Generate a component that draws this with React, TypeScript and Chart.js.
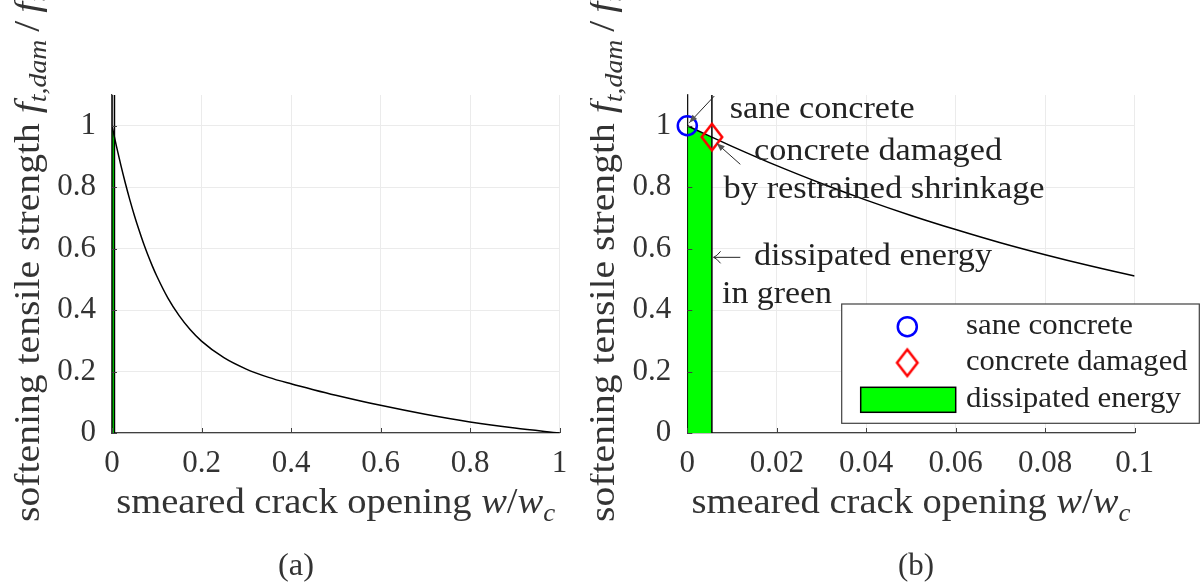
import React, { useEffect, useRef } from 'react';
import { Chart, registerables } from 'chart.js';
Chart.register(...registerables);

const FAM = '"Liberation Serif", "Times New Roman", serif';

// ---- data ----
const crackOpening = [0, 0.005, 0.01, 0.02, 0.03, 0.04, 0.05, 0.06, 0.07, 0.08, 0.09, 0.1, 0.125, 0.15, 0.175, 0.2, 0.25, 0.3, 0.35, 0.4, 0.45, 0.5, 0.6, 0.7, 0.8, 0.9, 1.0];
const softeningStrength = [1, 0.966, 0.933, 0.87, 0.812, 0.758, 0.708, 0.662, 0.619, 0.58, 0.544, 0.511, 0.439, 0.382, 0.336, 0.299, 0.245, 0.208, 0.181, 0.16, 0.141, 0.123, 0.09, 0.061, 0.036, 0.016, 0];
const saneX = [0];
const saneY = [1];
const damagedX = [0.0055];
const damagedY = [0.963];
const energyTopX = [0, 0.0055];
const energyTopY = [1, 0.962];
const energyEdgeY = [0, 1.1];
const yTicks = [0, 0.2, 0.4, 0.6, 0.8, 1];
const xTicksA = [0, 0.2, 0.4, 0.6, 0.8, 1];
const xTicksB = [0, 0.02, 0.04, 0.06, 0.08, 0.1];
const legendLabels = ['sane concrete', 'concrete damaged', 'dissipated energy'];
const Y_MAX = 1.1;

type Seg = { t: string; it?: boolean; sub?: boolean };

const yTitle: Seg[] = [
  { t: 'softening tensile strength ' },
  { t: 'f', it: true },
  { t: 't,dam', it: true, sub: true },
  { t: '\u2009/\u2009' },
  { t: 'f', it: true },
  { t: 't', it: true, sub: true },
];
const xTitle: Seg[] = [
  { t: 'smeared crack opening ' },
  { t: 'w', it: true },
  { t: '/' },
  { t: 'w', it: true },
  { t: 'c', it: true, sub: true },
];

function segFont(size: number, s: Seg) {
  const sz = s.sub ? size * 0.7 : size;
  return `${s.it ? 'italic ' : ''}${sz}px ${FAM}`;
}
function measureRich(ctx: CanvasRenderingContext2D, segs: Seg[], size: number) {
  let w = 0;
  for (const s of segs) {
    ctx.font = segFont(size, s);
    w += ctx.measureText(s.t).width;
  }
  return w;
}
function drawRich(
  ctx: CanvasRenderingContext2D,
  segs: Seg[],
  size: number,
  x: number,
  y: number,
  o: { width?: number; center?: boolean; rotate?: boolean; color: string }
) {
  const nat = measureRich(ctx, segs, size);
  const sx = o.width ? o.width / nat : 1;
  ctx.save();
  ctx.translate(x, y);
  if (o.rotate) ctx.rotate(-Math.PI / 2);
  ctx.scale(sx, 1);
  let cx = o.center ? -nat / 2 : 0;
  ctx.fillStyle = o.color;
  ctx.textBaseline = 'alphabetic';
  ctx.textAlign = 'left';
  for (const s of segs) {
    ctx.font = segFont(size, s);
    ctx.fillText(s.t, cx, s.sub ? size * 0.22 : 0);
    cx += ctx.measureText(s.t).width;
  }
  ctx.restore();
}

function filledArrow(ctx: CanvasRenderingContext2D, x1: number, y1: number, x2: number, y2: number) {
  const head = 8, hw = 3.2;
  ctx.beginPath();
  ctx.moveTo(x1, y1);
  ctx.lineTo(x2, y2);
  ctx.stroke();
  const a = Math.atan2(y2 - y1, x2 - x1);
  const bx = x2 - head * Math.cos(a), by = y2 - head * Math.sin(a);
  ctx.beginPath();
  ctx.moveTo(x2, y2);
  ctx.lineTo(bx + hw * Math.sin(a), by - hw * Math.cos(a));
  ctx.lineTo(bx - hw * Math.sin(a), by + hw * Math.cos(a));
  ctx.closePath();
  ctx.fill();
}
function openArrow(ctx: CanvasRenderingContext2D, x1: number, y1: number, x2: number, y2: number) {
  ctx.beginPath();
  ctx.moveTo(x1, y1);
  ctx.lineTo(x2, y2);
  ctx.moveTo(x2 + 7, y2 - 6);
  ctx.quadraticCurveTo(x2 + 3, y2 - 1, x2, y2);
  ctx.quadraticCurveTo(x2 + 3, y2 + 1, x2 + 7, y2 + 6);
  ctx.stroke();
}

function diamondImage(w: number, h: number, lw: number, color: string) {
  const c = document.createElement('canvas');
  c.width = 26;
  c.height = 32;
  const g = c.getContext('2d')!;
  const cx = c.width / 2, cy = c.height / 2;
  g.beginPath();
  g.moveTo(cx, cy - h / 2);
  g.lineTo(cx + w / 2, cy);
  g.lineTo(cx, cy + h / 2);
  g.lineTo(cx - w / 2, cy);
  g.closePath();
  g.strokeStyle = color;
  g.lineWidth = lw;
  g.stroke();
  return c;
}

const fmt = (v: any) => String(parseFloat(Number(v).toFixed(4)));

function makeDeco(panel: 'a' | 'b', diamond: HTMLCanvasElement) {
  return {
    id: 'deco' + panel,
    afterDraw(chart: any) {
      const ctx: CanvasRenderingContext2D = chart.ctx;
      const ca = chart.chartArea;
      const xs = chart.scales.x, ys = chart.scales.y;
      ctx.save();
      // inward tick marks
      ctx.strokeStyle = '#404040';
      ctx.lineWidth = 1;
      ctx.beginPath();
      for (const t of xs.ticks) {
        const px = Math.round(xs.getPixelForValue(t.value)) + 0.5;
        ctx.moveTo(px, ca.bottom);
        ctx.lineTo(px, ca.bottom - 5);
      }
      for (const t of ys.ticks) {
        const py = Math.round(ys.getPixelForValue(t.value)) + 0.5;
        ctx.moveTo(ca.left, py);
        ctx.lineTo(ca.left + 5, py);
      }
      ctx.stroke();
      // axis titles
      drawRich(ctx, yTitle, 35, ca.left - 73.5, 522, { width: 528, rotate: true, color: '#333333' });
      drawRich(ctx, xTitle, 35, (ca.left + ca.right) / 2, 513, { width: 439, center: true, color: '#333333' });
      // sub-caption
      drawRich(ctx, [{ t: panel === 'a' ? '(a)' : '(b)' }], 32, panel === 'a' ? 296 : 326, 575, { width: 36, center: true, color: '#333333' });

      if (panel === 'b') {
        const X = (v: number) => xs.getPixelForValue(v);
        const Y = (v: number) => ys.getPixelForValue(v);
        ctx.strokeStyle = '#262626';
        ctx.fillStyle = '#555555';
        ctx.lineWidth = 1;
        filledArrow(ctx, X(0.00604), Y(1.0967), X(0.00045), Y(1.0098));
        filledArrow(ctx, X(0.01185), Y(0.8744), X(0.00657), Y(0.9427));
        openArrow(ctx, X(0.01185), Y(0.5717), X(0.00588), Y(0.5717));
        const notes: [string, number, number, number][] = [
          ['sane concrete', 0.00948, 1.0241, 185],
          ['concrete damaged', 0.01491, 0.8884, 248],
          ['by restrained shrinkage', 0.00812, 0.7647, 321],
          ['dissipated energy', 0.01491, 0.5467, 238],
          ['in green', 0.00776, 0.423, 110],
        ];
        for (const [t, x, y, w] of notes) {
          drawRich(ctx, [{ t }], 32, X(x), Y(y), { width: w, color: '#222222' });
        }
        // legend
        const L = 251.7, T = 304, R = 609.3, B = 423.3;
        ctx.fillStyle = '#ffffff';
        ctx.fillRect(L, T, R - L, B - T);
        ctx.strokeStyle = '#404040';
        ctx.lineWidth = 1.2;
        ctx.strokeRect(L, T, R - L, B - T);
        const mx = 317.3;
        ctx.strokeStyle = '#0000ff';
        ctx.lineWidth = 2.5;
        ctx.beginPath();
        ctx.arc(mx, 326.7, 9.5, 0, Math.PI * 2);
        ctx.stroke();
        ctx.drawImage(diamond, mx - diamond.width / 2, 362.7 - diamond.height / 2);
        ctx.fillStyle = '#00ff00';
        ctx.fillRect(270.7, 387.3, 95, 25);
        ctx.strokeStyle = '#000000';
        ctx.lineWidth = 1.5;
        ctx.strokeRect(270.7, 387.3, 95, 25);
        const lw = [167, 221.5, 215];
        const lb = [334, 370, 406.5];
        legendLabels.forEach((t, i) => drawRich(ctx, [{ t }], 29, 376, lb[i], { width: lw[i], color: '#222222' }));
      }
      ctx.restore();
    },
  };
}

function makeConfig(panel: 'a' | 'b', diamond: HTMLCanvasElement): any {
  const pts = (xs: number[], ys: number[]) => xs.map((x, i) => ({ x, y: ys[i] }));
  const datasets: any[] = [];
  if (panel === 'b') {
    datasets.push({
      label: legendLabels[0],
      data: pts(saneX, saneY),
      showLine: false,
      pointStyle: 'circle',
      pointRadius: 9.5,
      pointBorderWidth: 2.5,
      pointBorderColor: '#0000ff',
      pointBackgroundColor: 'rgba(0,0,0,0)',
      clip: false,
      order: 0,
    });
    datasets.push({
      label: legendLabels[1],
      data: pts(damagedX, damagedY),
      showLine: false,
      pointStyle: diamond,
      pointRadius: 12,
      clip: false,
      order: 0,
    });
  }
  datasets.push({
    label: 'softening',
    data: pts(crackOpening, softeningStrength),
    borderColor: '#000000',
    borderWidth: 1.5,
    pointRadius: 0,
    cubicInterpolationMode: 'monotone',
    order: 1,
  });
  datasets.push({
    label: 'edge0',
    data: pts([energyTopX[0], energyTopX[0]], energyEdgeY),
    borderColor: '#000000',
    borderWidth: 1.5,
    pointRadius: 0,
    order: 2,
  });
  datasets.push({
    label: 'edge1',
    data: pts([energyTopX[1], energyTopX[1]], energyEdgeY),
    borderColor: '#000000',
    borderWidth: 1.5,
    pointRadius: 0,
    order: 2,
  });
  datasets.push({
    label: legendLabels[2],
    data: pts(energyTopX, energyTopY),
    borderColor: 'rgba(0,0,0,0)',
    borderWidth: 0,
    pointRadius: 0,
    fill: 'origin',
    backgroundColor: '#00ff00',
    order: 3,
  });

  const xTicks = panel === 'a' ? xTicksA : xTicksB;
  const yWidth = panel === 'a' ? 112 : 97.3;
  const padRight = panel === 'a' ? 30.5 : 65.4;
  const tickFont = { family: FAM, size: 31 };
  return {
    type: 'line',
    data: { datasets },
    options: {
      animation: false,
      responsive: false,
      parsing: true,
      layout: { padding: { left: 0, right: padRight, top: 95, bottom: 0 } },
      plugins: { legend: { display: false }, tooltip: { enabled: false } },
      scales: {
        x: {
          type: 'linear',
          min: 0,
          max: xTicks[xTicks.length - 1],
          afterBuildTicks: (s: any) => {
            s.ticks = xTicks.map((v) => ({ value: v }));
          },
          afterFit: (s: any) => {
            s.height = 154;
          },
          grid: { color: '#ebebeb', lineWidth: 1, drawTicks: false },
          border: { color: '#404040', width: 1.3 },
          ticks: { padding: 12, color: '#333333', font: tickFont, maxRotation: 0, autoSkip: false, callback: fmt },
        },
        y: {
          type: 'linear',
          min: 0,
          max: Y_MAX,
          afterBuildTicks: (s: any) => {
            s.ticks = yTicks.map((v) => ({ value: v }));
          },
          afterFit: (s: any) => {
            s.width = yWidth;
          },
          grid: { color: '#ebebeb', lineWidth: 1, drawTicks: false },
          border: { color: '#404040', width: 1.3 },
          ticks: { padding: 16, color: '#333333', font: tickFont, autoSkip: false, callback: fmt },
        },
      },
    },
    plugins: [makeDeco(panel, diamond)],
  };
}

export default function App() {
  const refA = useRef<HTMLCanvasElement>(null);
  const refB = useRef<HTMLCanvasElement>(null);
  useEffect(() => {
    document.body.style.margin = '0';
    const diamond = diamondImage(20.5, 26.5, 2.5, '#ff0000');
    const a = new Chart(refA.current!, makeConfig('a', diamond));
    const b = new Chart(refB.current!, makeConfig('b', diamond));
    return () => {
      a.destroy();
      b.destroy();
    };
  }, []);
  return (
    <div style={{ position: 'fixed', left: 0, top: 0, width: 1200, height: 587, background: '#ffffff' }}>
      <canvas ref={refA} width={590} height={587} style={{ position: 'absolute', left: 0, top: 0, width: 590, height: 587 }} />
      <canvas ref={refB} width={610} height={587} style={{ position: 'absolute', left: 590, top: 0, width: 610, height: 587 }} />
    </div>
  );
}
